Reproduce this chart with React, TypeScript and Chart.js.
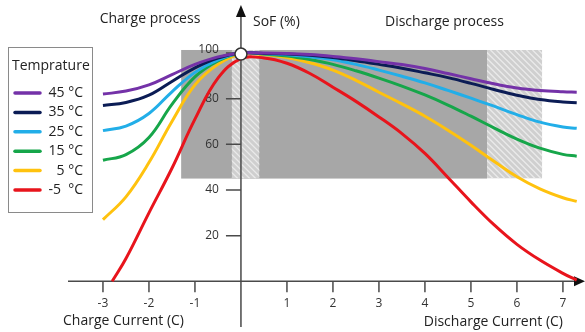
import React, { useEffect, useRef } from "react";
import { Chart, registerables } from "chart.js";
Chart.register(...registerables);

const xValues = [-3, -2.5, -2, -1.5, -1, -0.5, 0, 0.5, 1, 1.5, 2, 2.5, 3, 3.5, 4, 4.5, 5, 5.5, 6, 6.5, 7, 7.3];
const redXValues = [-2.8, -2.5, -2, -1.5, -1, -0.5, 0, 0.5, 1, 1.5, 2, 2.5, 3, 3.5, 4, 4.5, 5, 5.5, 6, 6.5, 7, 7.3];

const temperatures = ["45 °C", "35 °C", "25 °C", "15 °C", "5 °C", "-5  °C"];
const colors = ["#7432a8", "#0b1c55", "#22aee8", "#16a64a", "#ffc20e", "#e8141c"];

const sof45 = [82, 83.3, 86, 90.5, 95, 98.3, 100, 100, 99.8, 99.3, 98.5, 97.5, 96.2, 94.9, 93.2, 91, 88.7, 86.5, 84.7, 83.6, 83, 82.8];
const sof35 = [77, 78.3, 81.5, 87.5, 93.5, 97.8, 100, 99.8, 99.5, 99, 98, 96.6, 95, 93.3, 91.3, 89.2, 86.7, 84, 81.5, 79.6, 78.5, 78.2];
const sof25 = [66, 68, 73.5, 83, 91.5, 97, 100, 99.7, 99.2, 98.3, 97, 95, 92.5, 89.8, 86.9, 83.6, 80.2, 76.7, 73, 69.7, 67.6, 67];
const sof15 = [53, 55.5, 63, 77.5, 89.5, 96.5, 100, 99.5, 98.7, 97.1, 95, 92.2, 89, 85.5, 81.6, 77.2, 72.3, 67.2, 62.3, 58.3, 55.6, 54.8];
const sof5 = [27, 37, 52, 70, 86, 95, 99.5, 99.3, 98, 95.7, 92.5, 88, 82.8, 77.7, 72.3, 66.2, 59.6, 52.6, 45.8, 40.5, 36.6, 35];
const sofM5 = [0, 10, 30, 49.5, 71, 89, 97.5, 97.8, 95.5, 91, 85, 78.8, 72, 64.7, 56, 45.5, 34.8, 24.8, 16.2, 9.3, 3.5, 0.5];

const yTicks = [20, 40, 60, 80, 100];
const xTicks = [-3, -2, -1, 1, 2, 3, 4, 5, 6, 7];

// operating zone: [xMin, xMax, yMin, yMax]
const operatingZone = [-1.3, 5.35, 45, 101.3];
const hatchZones = [[-0.2, 0.4], [5.35, 6.55]];
const originPoint = [0, 99.5];

const FONT = "'Open Sans', 'Noto Sans', sans-serif";

const drawPlugin = {
  id: "decor",
  beforeDatasetsDraw(chart: any) {
    const { ctx, scales, chartArea } = chart;
    const xs = scales.x;
    const ys = scales.y;
    const px = (v: number) => xs.getPixelForValue(v);
    const py = (v: number) => ys.getPixelForValue(v);
    ctx.save();
    const zx0 = px(operatingZone[0]);
    const zx1 = px(operatingZone[1]);
    const zy0 = py(operatingZone[3]);
    const zy1 = py(operatingZone[2]);
    ctx.fillStyle = "#a7a7a7";
    ctx.fillRect(zx0, zy0, zx1 - zx0, zy1 - zy0);
    hatchZones.forEach(([a, b]) => {
      const hx0 = px(a);
      const hx1 = px(b);
      ctx.save();
      ctx.beginPath();
      ctx.rect(hx0, zy0, hx1 - hx0, zy1 - zy0);
      ctx.clip();
      ctx.fillStyle = "#cfcfcf";
      ctx.fillRect(hx0, zy0, hx1 - hx0, zy1 - zy0);
      ctx.strokeStyle = "rgba(236,236,236,0.9)";
      ctx.lineWidth = 1.3;
      const h = zy1 - zy0;
      for (let k = -h; k < hx1 - hx0 + h; k += 6) {
        ctx.beginPath();
        ctx.moveTo(hx0 + k, zy0);
        ctx.lineTo(hx0 + k + h, zy1);
        ctx.stroke();
      }
      ctx.restore();
    });
    const x0 = px(0);
    const y0 = py(0);
    ctx.strokeStyle = "#4a4a4a";
    ctx.lineWidth = 1.5;
    ctx.beginPath();
    ctx.moveTo(chartArea.left, y0);
    ctx.lineTo(chartArea.right - 8, y0);
    ctx.moveTo(x0, chartArea.bottom);
    ctx.lineTo(x0, chartArea.top + 10);
    ctx.stroke();
    ctx.fillStyle = "#111";
    ctx.beginPath();
    ctx.moveTo(chartArea.right, y0);
    ctx.lineTo(chartArea.right - 11, y0 - 5);
    ctx.lineTo(chartArea.right - 11, y0 + 5);
    ctx.closePath();
    ctx.fill();
    ctx.beginPath();
    ctx.moveTo(x0, chartArea.top);
    ctx.lineTo(x0 - 5, chartArea.top + 12);
    ctx.lineTo(x0 + 5, chartArea.top + 12);
    ctx.closePath();
    ctx.fill();
    ctx.strokeStyle = "#4a4a4a";
    ctx.lineWidth = 1.5;
    ctx.beginPath();
    yTicks.forEach((t) => {
      ctx.moveTo(x0 - 15, py(t));
      ctx.lineTo(x0, py(t));
    });
    xTicks.forEach((t) => {
      ctx.moveTo(px(t), y0);
      ctx.lineTo(px(t), y0 + 11);
    });
    ctx.stroke();
    ctx.fillStyle = "#333";
    ctx.font = `12px ${FONT}`;
    ctx.textAlign = "right";
    ctx.textBaseline = "middle";
    yTicks.forEach((t) => {
      ctx.fillText(String(t), x0 - 22, py(t) - (t === 100 ? 3 : 0));
    });
    ctx.textAlign = "center";
    xTicks.forEach((t) => {
      ctx.fillText(String(t), px(t), y0 + 22);
    });
    ctx.restore();
  },
  afterDatasetsDraw(chart: any) {
    const { ctx, scales } = chart;
    const cx = scales.x.getPixelForValue(originPoint[0]);
    const cy = scales.y.getPixelForValue(originPoint[1]);
    ctx.save();
    ctx.beginPath();
    ctx.arc(cx, cy, 6, 0, Math.PI * 2);
    ctx.fillStyle = "#fff";
    ctx.fill();
    ctx.strokeStyle = "#333";
    ctx.lineWidth = 1.5;
    ctx.stroke();

    ctx.fillStyle = "#222";
    ctx.font = `14px ${FONT}`;
    ctx.textBaseline = "middle";
    ctx.textAlign = "center";
    ctx.fillText("Charge process", 150, 19);
    ctx.textAlign = "left";
    ctx.fillText("SoF (%)", 253, 22);
    ctx.fillText("Discharge process", 385, 22);
    ctx.fillText("Charge Current (C)", 63, 321);
    ctx.textAlign = "right";
    ctx.fillText("Discharge Current (C)", 563, 322);

    ctx.strokeStyle = "#8a8a8a";
    ctx.lineWidth = 1;
    ctx.fillStyle = "#fff";
    ctx.fillRect(8, 47, 85, 165);
    ctx.strokeRect(8.5, 47.5, 84, 165);
    ctx.fillStyle = "#222";
    ctx.textAlign = "left";
    ctx.fillText("Temprature", 12, 66);
    temperatures.forEach((t, i) => {
      const yy = 93 + i * 19.4;
      ctx.strokeStyle = colors[i];
      ctx.lineWidth = 3.5;
      ctx.lineCap = "round";
      ctx.beginPath();
      ctx.moveTo(15, yy);
      ctx.lineTo(40, yy);
      ctx.stroke();
      ctx.fillStyle = "#222";
      ctx.textAlign = "right";
      ctx.fillText(t, 83, yy);
    });
    ctx.restore();
  },
};

export default function App() {
  const ref = useRef<HTMLCanvasElement | null>(null);
  useEffect(() => {
    if (!ref.current) return;
    const series = [sof45, sof35, sof25, sof15, sof5, sofM5];
    const datasets = series.map((s, i) => {
      const xsArr = i === 5 ? redXValues : xValues;
      return {
        label: temperatures[i],
        data: s.map((v, j) => ({ x: xsArr[j], y: v })),
        borderColor: colors[i],
        backgroundColor: colors[i],
        borderWidth: 3,
        pointRadius: 0,
        fill: false,
        tension: 0.4,
      };
    });
    const chart = new Chart(ref.current, {
      type: "line",
      data: { datasets },
      options: {
        animation: false,
        responsive: false,
        devicePixelRatio: 1,
        layout: { padding: { left: 68, right: 0, top: 5, bottom: 5 } },
        plugins: { legend: { display: false }, tooltip: { enabled: false } },
        scales: {
          x: { type: "linear", min: -3.76, max: 7.48, display: false },
          y: { type: "linear", min: -20, max: 121, display: false },
        },
      },
      plugins: [drawPlugin],
    });
    return () => chart.destroy();
  }, []);
  return (
    <div style={{ position: "absolute", left: 0, top: 0, width: 585, height: 332, background: "#fff" }}>
      <canvas ref={ref} width={585} height={332} style={{ display: "block" }} />
    </div>
  );
}
